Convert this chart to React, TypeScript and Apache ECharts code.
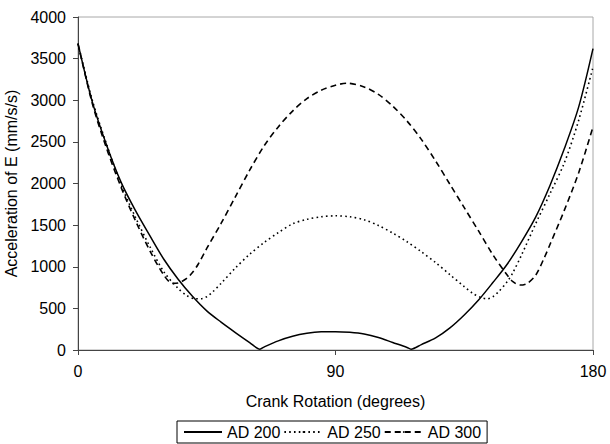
import React, { useEffect, useRef } from "react";
import * as echarts from "echarts";

const xTicks = [0, 90, 180];

const ad200Angles = [0, 5, 10, 15, 20, 25, 30, 35, 40, 45, 50, 55, 60, 63.6, 65, 70, 75, 80, 85, 90, 95, 100, 105, 110, 115, 116.4, 120, 125, 130, 135, 140, 145, 150, 155, 160, 165, 170, 175, 180];
const ad200Values = [3680, 2980, 2460, 2020, 1680, 1380, 1090, 850, 645, 470, 335, 210, 90, 10, 35, 110, 165, 200, 218, 220, 212, 192, 150, 90, 30, 10, 65, 145, 265, 420, 600, 810, 1030, 1300, 1600, 1980, 2420, 2920, 3620];

const ad250Angles = [0, 5, 10, 15, 20, 25, 30, 35, 38, 41, 43, 45, 47, 50, 55, 60, 65, 70, 75, 80, 85, 90, 95, 100, 105, 110, 115, 120, 125, 130, 135, 138, 141, 143, 145, 147, 150, 152, 155, 160, 165, 170, 175, 180];
const ad250Values = [3680, 3000, 2470, 1990, 1600, 1250, 940, 740, 655, 615, 615, 640, 695, 800, 985, 1150, 1290, 1410, 1515, 1570, 1600, 1612, 1600, 1565, 1495, 1405, 1300, 1180, 1050, 905, 760, 680, 628, 615, 640, 700, 820, 930, 1140, 1520, 1880, 2250, 2760, 3400];

const ad300Angles = [0, 5, 10, 15, 20, 25, 30, 33, 35, 38, 40, 42, 45, 50, 55, 60, 65, 70, 75, 80, 85, 90, 94, 100, 105, 110, 115, 120, 125, 130, 135, 140, 145, 150, 152, 154.5, 157, 160, 163, 165, 170, 175, 180];
const ad300Values = [3680, 2960, 2420, 1960, 1560, 1200, 900, 800, 805, 860, 930, 1030, 1220, 1520, 1840, 2160, 2450, 2680, 2870, 3020, 3120, 3180, 3205, 3160, 3070, 2930, 2750, 2530, 2270, 1990, 1710, 1430, 1145, 900, 820, 780, 800, 900, 1110, 1270, 1680, 2130, 2680];

const seriesNames = ["AD 200", "AD 250", "AD 300"];

const FONT = "'Liberation Sans', Arial, sans-serif";

function pairs(a: number[], v: number[]) {
  return a.map((x, i) => [x, v[i]]);
}

export default function App() {
  const ref = useRef<HTMLDivElement>(null);
  useEffect(() => {
    if (!ref.current) return;
    const chart = echarts.init(ref.current, undefined, { renderer: "svg" });
    const common = {
      type: "line",
      showSymbol: false,
      symbol: "none",
      smooth: 0.3,
    };
    chart.setOption({
      animation: false,
      backgroundColor: "#fff",
      textStyle: { fontFamily: FONT },
      grid: {
        left: 78,
        right: 17,
        top: 17,
        bottom: 94,
        show: true,
        borderColor: "#a8a8a8",
        borderWidth: 1,
        containLabel: false,
        outerBoundsMode: "none",
      },
      legend: {
        left: 177,
        top: 421,
        padding: [3, 6],
        itemWidth: 38,
        itemHeight: 2,
        itemGap: 3,
        borderColor: "#000",
        borderWidth: 1,
        borderRadius: 0,
        textStyle: { fontFamily: FONT, fontSize: 16, color: "#000" },
        data: seriesNames,
      },
      xAxis: {
        type: "value",
        min: 0,
        max: 180,
        interval: 90,
        name: "Crank Rotation (degrees)",
        nameLocation: "middle",
        nameGap: 43,
        nameTextStyle: { fontFamily: FONT, fontSize: 16, color: "#000" },
        axisLine: { show: true, lineStyle: { color: "#444", width: 1 } },
        axisTick: { show: true, length: 5, inside: false, lineStyle: { color: "#444" } },
        axisLabel: {
          fontFamily: FONT,
          fontSize: 16,
          color: "#000",
          margin: 13,
          formatter: (v: number) => (xTicks.includes(v) ? String(v) : ""),
        },
        splitLine: { show: false },
      },
      yAxis: {
        type: "value",
        min: 0,
        max: 4000,
        interval: 500,
        name: "Acceleration of E (mm/s/s)",
        nameLocation: "middle",
        nameGap: 54,
        nameTextStyle: { fontFamily: FONT, fontSize: 16, color: "#000" },
        axisLine: { show: true, lineStyle: { color: "#444", width: 1 } },
        axisTick: { show: true, length: 5, inside: false, lineStyle: { color: "#444" } },
        axisLabel: {
          fontFamily: FONT,
          fontSize: 16,
          color: "#000",
          margin: 12,
          formatter: (v: number) => String(v),
        },
        splitLine: { show: false },
      },
      series: [
        {
          ...common,
          name: seriesNames[0],
          data: pairs(ad200Angles, ad200Values),
          lineStyle: { color: "#000", width: 1.5, type: "solid" },
          itemStyle: { color: "#000" },
        },
        {
          ...common,
          name: seriesNames[1],
          data: pairs(ad250Angles, ad250Values),
          lineStyle: { color: "#000", width: 1.6, type: [1.6, 3.2] },
          itemStyle: { color: "#000" },
        },
        {
          ...common,
          name: seriesNames[2],
          data: pairs(ad300Angles, ad300Values),
          lineStyle: { color: "#000", width: 1.6, type: [6, 4] },
          itemStyle: { color: "#000" },
        },
      ],
    });
    return () => chart.dispose();
  }, []);
  return (
    <div
      ref={ref}
      style={{ position: "fixed", left: 0, top: 0, width: 610, height: 444, background: "#fff" }}
    />
  );
}
